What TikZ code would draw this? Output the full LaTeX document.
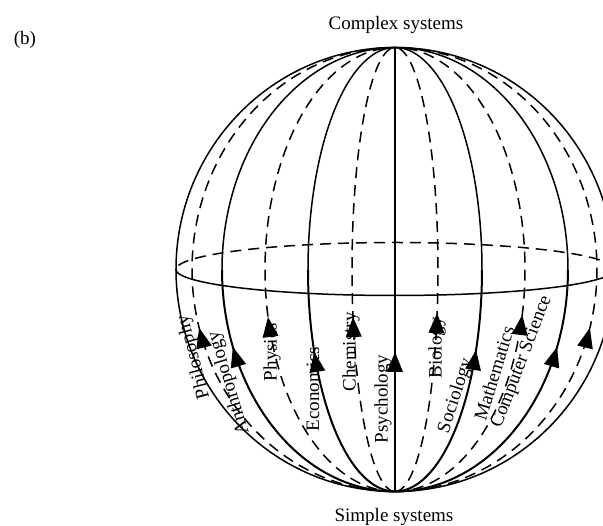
\documentclass[tikz,border=0pt]{standalone}
\usepackage{fontspec}
\setmainfont{Liberation Serif}
\begin{document}
\begin{tikzpicture}[x=1pt,y=1pt,
  solidline/.style={line width=1.5pt},
  lowline/.style={line width=2pt},
  backline/.style={line width=1.5pt, dash pattern=on 11pt off 7pt},
  lbl/.style={font=\fontsize{19}{22}\selectfont, inner sep=0pt}]
\useasboundingbox (-395,-256.5) rectangle (208,269.5);
\clip (-395,-256.5) rectangle (208,269.5);
% meridians (upper and lower halves)
\foreach \a in {-203,-130,-43,43,130,202}{
  \draw[backline] plot[domain=-90:90, samples=80, smooth] ({\a*cos(\x)},{222*sin(\x)});
}
\foreach \a in {-173,-87,87,173}{
  \draw[solidline] plot[domain=0:90, samples=50, smooth] ({\a*cos(\x)},{222*sin(\x)});
  \draw[lowline] plot[domain=-90:0, samples=50, smooth] ({\a*cos(\x)},{222*sin(\x)});
}
\draw[solidline] (0,0) -- (0,222);
\draw[lowline] (0,-222) -- (0,0);
% equator
\draw[backline] plot[domain=0:180, samples=80, smooth] ({219*cos(\x)},{27*sin(\x)});
\draw[solidline] plot[domain=180:360, samples=80, smooth] ({219*cos(\x)},{26*sin(\x)});
% outline
\draw[solidline] (0,0) ellipse[x radius=219, y radius=222];
% labels
\node[lbl] (b) at (-370,229.5) {(b)};
\node[lbl, anchor=base] (complex) at (1,239.5) {Complex systems};
\node[lbl, anchor=base] (simple) at (-1,-252) {Simple systems};
\node[lbl, rotate=105] (phil) at (-201,-87.5) {Philosophy};
\node[lbl, rotate=107] (anth) at (-166,-113.5) {Anthropology};
\node[lbl, rotate=90] (phys) at (-123,-82.5) {Physics};
\node[lbl, rotate=90] (econ) at (-82,-119.5) {Economics};
\node[lbl, rotate=90] (chem) at (-44,-82.5) {Chemistry};
\node[lbl, rotate=90] (psych) at (-12,-129.5) {Psychology};
\node[lbl, rotate=90] (bio) at (42,-78.5) {Biology};
\node[lbl, rotate=72] (soc) at (61,-126.5) {Sociology};
\node[lbl, rotate=73] (math) at (99,-103.5) {Mathematics};
\node[lbl, rotate=69] (cs) at (127,-92.5) {Computer Science};
% arrowheads
\foreach \a/\Y in {-203/328,-173/347,-130/317,-87/352,-43/317,0/352,43/313,87/350,130/315,173/347,202/328}{
  \pgfmathsetmacro\yA{269.5-\Y}
  \pgfmathsetmacro\tA{asin(\yA/222)}
  \pgfmathsetmacro\xA{\a*cos(\tA)}
  \pgfmathsetmacro\angA{atan2(222*cos(\tA),-\a*sin(\tA))}
  \fill[shift={(\xA,\yA)}, rotate=\angA] (0,0) -- (-20,8) -- (-20,-8) -- cycle;
}
\end{tikzpicture}
\end{document}
